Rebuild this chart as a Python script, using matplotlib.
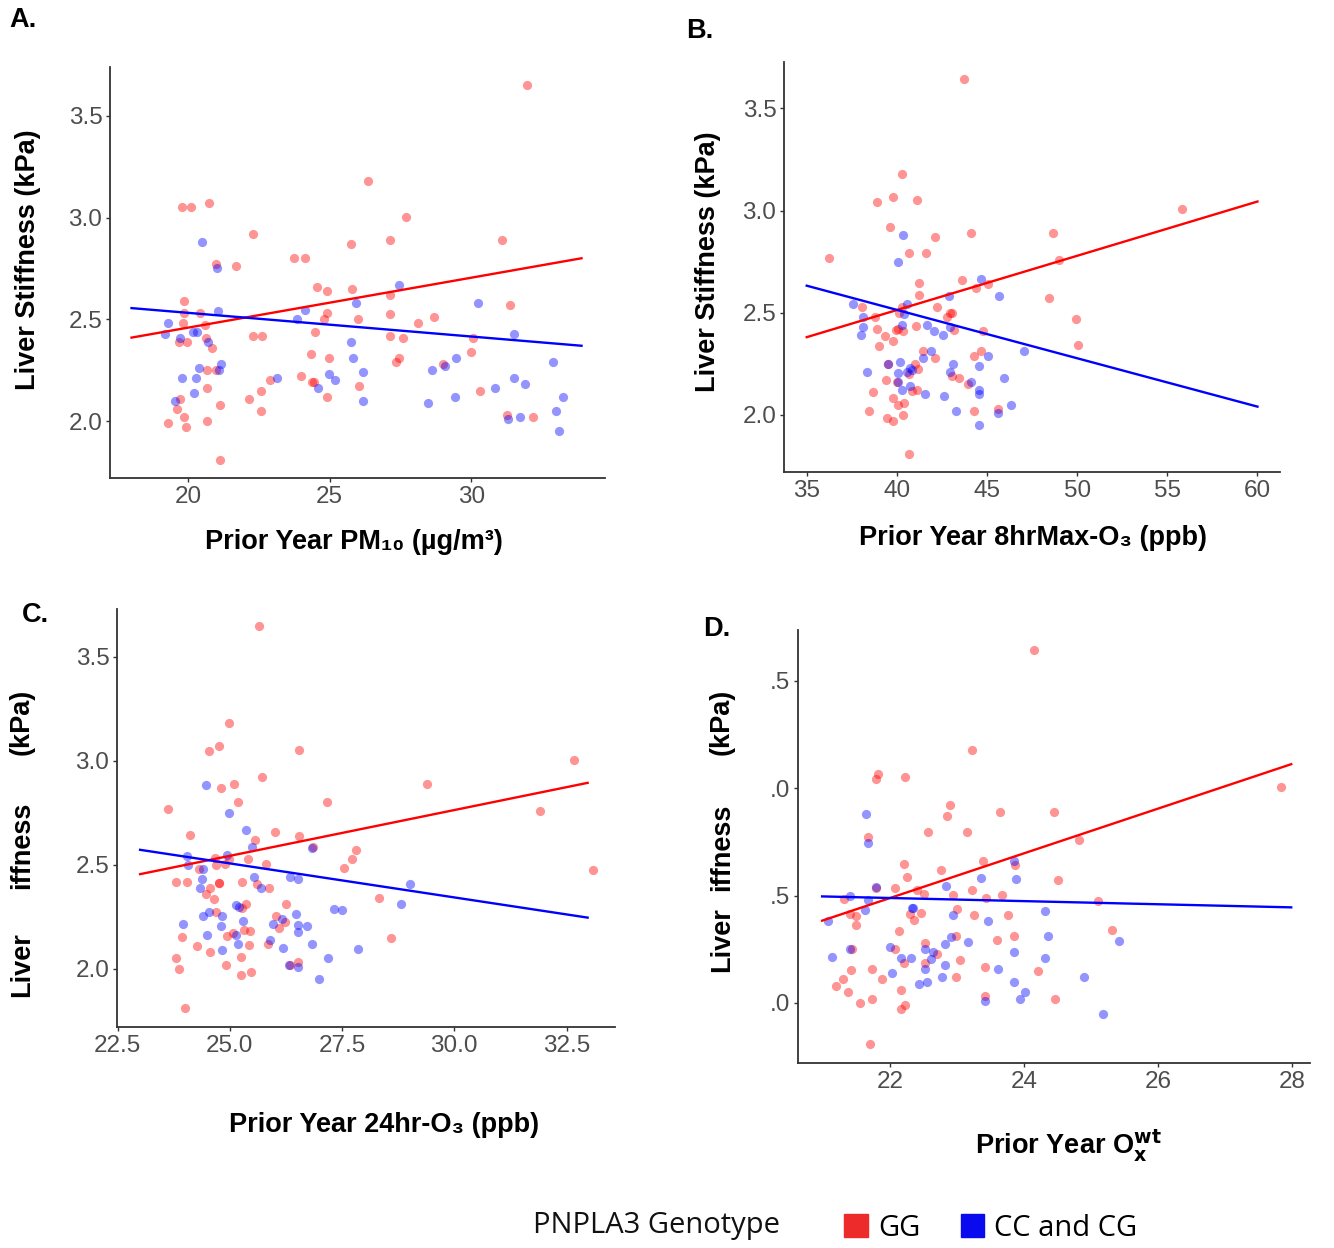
import matplotlib
matplotlib.use("Agg")
import matplotlib.pyplot as plt
from matplotlib.patches import Patch

plt.rcParams['font.family'] = ['Liberation Sans', 'DejaVu Sans']

# ---------------- data ----------------
# Panel A: PM10
A_GG_X = [31.97,26.37,27.71,19.8,20.1,20.73,22.3,25.77,27.13,31.1,23.73,24.12,20.99,21.7,24.54,24.9,25.79,27.13,19.87,31.36,19.87,20.41,24.89,27.13,24.8,26.02,19.82,20.58,28.12,28.69,24.47,22.31,22.62,19.68,19.96,20.63,27.13,27.58,30.07,20.86,29.99,24.34,24.99,27.45,27.33,20.67,20.97,28.99,23.99,22.89,24.39,24.46,26.04,20.65,22.59,19.72,22.15,24.9,30.3,19.62,19.86,21.13,22.58,19.3,19.93,20.68,31.27,32.17,21.13]
A_GG_Y = [3.65,3.18,3.005,3.05,3.05,3.07,2.92,2.87,2.89,2.89,2.80,2.80,2.77,2.76,2.66,2.64,2.65,2.62,2.59,2.57,2.53,2.53,2.53,2.525,2.50,2.50,2.48,2.47,2.48,2.51,2.44,2.42,2.42,2.39,2.39,2.41,2.42,2.41,2.41,2.36,2.34,2.33,2.31,2.31,2.29,2.25,2.25,2.28,2.22,2.20,2.19,2.19,2.17,2.16,2.15,2.11,2.11,2.12,2.15,2.06,2.02,2.08,2.05,1.99,1.97,2.0,2.03,2.02,1.81]
A_CC_X = [20.5,21.01,27.44,30.24,25.93,24.12,21.06,23.84,19.3,19.18,19.71,20.18,20.33,20.72,31.52,25.76,25.84,29.48,32.89,20.39,21.17,21.1,28.6,29.07,26.17,24.99,25.18,19.8,20.29,23.15,31.52,31.91,24.6,30.83,20.21,19.53,26.17,28.46,29.43,33.25,31.3,31.74,33.0,33.12]
A_CC_Y = [2.88,2.75,2.67,2.58,2.58,2.545,2.54,2.50,2.48,2.43,2.41,2.44,2.44,2.39,2.43,2.39,2.31,2.31,2.29,2.26,2.28,2.25,2.25,2.27,2.24,2.23,2.20,2.21,2.21,2.21,2.21,2.18,2.16,2.16,2.14,2.10,2.10,2.09,2.12,2.12,2.01,2.02,2.05,1.95]
A_FIT_X = [18.0, 33.9]
A_FIT_GG = [2.41, 2.80]
A_FIT_CC = [2.555, 2.37]

# Panel B: 8hrMax-O3
B_GG_X = [43.71,40.29,38.88,39.77,41.1,55.8,39.6,44.09,48.64,42.1,40.69,41.6,36.26,48.97,41.21,43.61,44.37,45.06,41.21,48.46,38.09,40.29,40.14,42.25,43.08,42.95,38.79,42.78,49.94,38.92,41.08,39.94,39.33,39.77,40.08,40.36,43.19,44.8,50.03,38.99,41.45,44.67,44.26,42.12,39.49,41.0,41.19,40.67,43.04,43.43,39.4,40.03,43.95,38.7,40.86,41.14,39.81,40.07,40.38,38.44,44.26,45.61,39.44,39.79,40.34,40.66]
B_GG_Y = [3.645,3.18,3.04,3.065,3.05,3.005,2.92,2.89,2.89,2.87,2.79,2.79,2.77,2.76,2.645,2.66,2.62,2.64,2.585,2.57,2.53,2.526,2.50,2.526,2.50,2.50,2.48,2.48,2.47,2.42,2.436,2.413,2.387,2.36,2.42,2.41,2.417,2.41,2.34,2.335,2.31,2.31,2.29,2.28,2.25,2.25,2.225,2.20,2.19,2.18,2.17,2.16,2.15,2.11,2.115,2.12,2.08,2.05,2.06,2.02,2.02,2.03,1.985,1.97,2.0,1.81]
B_CC_X = [40.34,40.05,44.65,45.68,42.89,37.59,40.55,38.1,40.42,38.1,40.27,41.65,42.04,42.95,38.01,42.56,47.05,41.91,45.04,41.45,39.53,40.18,43.13,44.57,40.71,38.35,40.08,40.55,40.82,42.95,45.92,44.13,40.07,40.73,40.29,44.54,44.57,41.54,42.6,43.28,45.59,46.31,44.57]
B_CC_Y = [2.88,2.75,2.665,2.58,2.58,2.54,2.54,2.48,2.495,2.43,2.44,2.44,2.41,2.43,2.39,2.39,2.31,2.31,2.29,2.28,2.25,2.26,2.25,2.24,2.23,2.21,2.205,2.21,2.22,2.21,2.18,2.16,2.16,2.14,2.12,2.12,2.10,2.10,2.09,2.02,2.01,2.05,1.95]
B_FIT_X = [35.0, 60.0]
B_FIT_GG = [2.38, 3.044]
B_FIT_CC = [2.632, 2.04]

# Panel C: 24hr-O3
C_GG_X = [25.65,24.98,24.53,24.75,26.54,32.66,29.39,25.71,24.81,25.1,25.17,27.17,23.62,31.91,24.12,26.01,26.54,25.55,26.85,27.8,27.72,24.67,24.69,24.9,24.97,24.31,25.4,25.8,27.54,33.09,23.8,24.05,24.75,24.75,25.26,24.56,25.6,25.88,24.46,24.64,28.32,24.7,25.36,25.26,26.25,26.02,26.22,26.09,23.93,25.32,25.45,24.93,25.08,24.27,25.42,25.84,28.59,24.55,23.79,25.25,23.86,24.91,25.25,25.48,26.33,26.52,24.01]
C_GG_Y = [3.65,3.18,3.045,3.07,3.05,3.006,2.89,2.92,2.87,2.89,2.80,2.80,2.77,2.76,2.645,2.66,2.64,2.62,2.587,2.57,2.527,2.535,2.50,2.503,2.527,2.48,2.527,2.503,2.484,2.474,2.416,2.416,2.413,2.413,2.418,2.387,2.407,2.387,2.358,2.336,2.339,2.275,2.31,2.29,2.31,2.256,2.227,2.198,2.153,2.187,2.18,2.156,2.17,2.11,2.116,2.119,2.15,2.079,2.05,2.058,2.0,2.018,1.968,1.986,2.018,2.034,1.81]
C_CC_X = [24.47,24.98,25.36,25.5,26.84,24.04,24.06,24.94,24.41,24.37,24.33,25.53,25.7,26.34,26.51,29.01,28.81,25.13,25.2,27.31,27.5,24.54,24.4,24.82,23.95,24.81,25.3,26.17,26.48,25.95,26.51,26.71,26.51,24.49,25.13,25.17,25.89,26.82,24.83,26.19,27.85,27.19,26.32,26.52,26.99]
C_CC_Y = [2.883,2.748,2.667,2.584,2.579,2.543,2.497,2.545,2.479,2.434,2.386,2.442,2.386,2.439,2.432,2.41,2.31,2.307,2.296,2.289,2.281,2.275,2.252,2.252,2.214,2.204,2.232,2.24,2.262,2.214,2.21,2.207,2.178,2.16,2.164,2.12,2.14,2.12,2.092,2.098,2.095,2.05,2.019,2.01,1.95]
C_FIT_X = [23.0, 32.97]
C_FIT_GG = [2.455, 2.894]
C_FIT_CC = [2.572, 2.246]

# Panel D: Ox wt
D_GG_X = [24.15,23.22,21.79,21.83,22.23,27.83,22.9,22.86,23.64,24.45,22.57,23.15,21.67,24.82,22.21,23.39,23.87,22.76,22.26,24.51,21.79,22.08,22.41,23.23,22.51,22.94,23.44,23.68,25.11,21.31,21.4,21.49,21.49,22.3,22.36,22.47,23.01,23.26,23.76,22.13,25.32,22.52,22.99,23.6,23.85,21.44,22.08,22.71,22.21,22.52,23.04,23.42,21.42,21.74,24.21,21.3,21.19,21.89,22.99,21.37,22.16,21.55,21.74,22.17,22.23,23.42,24.46,21.71]
D_GG_Y = [3.646,3.18,3.045,3.066,3.05,3.007,2.92,2.869,2.89,2.89,2.796,2.796,2.772,2.76,2.645,2.659,2.641,2.619,2.586,2.571,2.535,2.534,2.527,2.526,2.506,2.502,2.487,2.502,2.475,2.484,2.414,2.403,2.363,2.413,2.386,2.419,2.437,2.411,2.408,2.333,2.34,2.279,2.313,2.293,2.31,2.253,2.251,2.226,2.186,2.186,2.2,2.168,2.154,2.157,2.149,2.112,2.078,2.113,2.119,2.053,2.059,2.0,2.019,1.971,1.988,2.03,2.02,1.81]
D_CC_X = [21.65,21.67,23.85,23.36,23.89,22.84,21.79,21.41,21.68,21.63,22.33,22.34,22.95,24.31,21.08,23.46,24.36,22.92,23.16,25.42,22.82,21.4,22.0,22.53,22.64,23.85,21.13,22.16,22.31,22.62,22.82,22.53,23.61,24.31,22.03,22.78,22.44,22.56,23.85,24.9,24.02,23.94,23.42,25.18]
D_CC_Y = [2.881,2.746,2.662,2.582,2.579,2.544,2.54,2.498,2.481,2.431,2.44,2.44,2.41,2.428,2.382,2.383,2.31,2.307,2.282,2.29,2.276,2.251,2.259,2.253,2.236,2.239,2.213,2.211,2.211,2.206,2.178,2.16,2.16,2.209,2.14,2.121,2.09,2.095,2.099,2.119,2.051,2.02,2.011,1.949]
D_FIT_X = [20.99, 27.99]
D_FIT_GG = [2.383, 3.112]
D_FIT_CC = [2.496, 2.445]

Y_TICKS = [2.0, 2.5, 3.0, 3.5]
Y_LABELS = ["2.0", "2.5", "3.0", "3.5"]
Y_LABELS_D = [".0", ".5", ".0", ".5"]
A_XTICKS = [20, 25, 30]
B_XTICKS = [35, 40, 45, 50, 55, 60]
C_XTICKS = [22.5, 25.0, 27.5, 30.0, 32.5]
D_XTICKS = [22, 24, 26, 28]

LEGEND_TITLE = "PNPLA3 Genotype"
GROUPS = ["GG", "CC and CG"]

# ---------------- figure ----------------
W, H = 1334, 1248
fig = plt.figure(figsize=(W / 100, H / 100), dpi=100)
fig.patch.set_facecolor("white")

RED = "#FF0000"
BLUE = "#0000FF"
TICK_COL = "#4D4D4D"


def box(l, r, t, b):
    return [l / W, 1 - b / H, (r - l) / W, (b - t) / H]


def fx(x):
    return x / W


def fy(y):
    return 1 - y / H


def panel(rect, ggx, ggy, ccx, ccy, fitx, fitgg, fitcc, xlim, ylim, xticks, xlabels, ylabels):
    ax = fig.add_axes(rect)
    ax.scatter(ggx, ggy, s=44, color=RED, alpha=0.42, linewidths=0, zorder=2)
    ax.scatter(ccx, ccy, s=44, color=BLUE, alpha=0.42, linewidths=0, zorder=2)
    ax.plot(fitx, fitgg, color=RED, lw=1.7, zorder=3)
    ax.plot(fitx, fitcc, color=BLUE, lw=1.7, zorder=3)
    ax.set_xlim(*xlim)
    ax.set_ylim(*ylim)
    ax.set_xticks(xticks)
    ax.set_xticklabels(xlabels)
    ax.set_yticks(Y_TICKS)
    ax.set_yticklabels(ylabels)
    for s in ["top", "right"]:
        ax.spines[s].set_visible(False)
    for s in ["left", "bottom"]:
        ax.spines[s].set_color("#333333")
        ax.spines[s].set_linewidth(1.3)
    ax.tick_params(axis="both", length=3, width=1, color="#333333",
                   labelcolor=TICK_COL, labelsize=17.5, pad=2.5)
    ax.set_facecolor("white")
    return ax


panel(box(110, 605, 67, 478), A_GG_X, A_GG_Y, A_CC_X, A_CC_Y, A_FIT_X, A_FIT_GG, A_FIT_CC,
      (17.24, 34.73), (1.72, 3.74), A_XTICKS, [str(v) for v in A_XTICKS], Y_LABELS)
panel(box(784, 1280, 62, 472), B_GG_X, B_GG_Y, B_CC_X, B_CC_Y, B_FIT_X, B_FIT_GG, B_FIT_CC,
      (33.74, 61.25), (1.72, 3.727), B_XTICKS, [str(v) for v in B_XTICKS], Y_LABELS)
panel(box(117, 615, 609, 1027), C_GG_X, C_GG_Y, C_CC_X, C_CC_Y, C_FIT_X, C_FIT_GG, C_FIT_CC,
      (22.485, 33.58), (1.72, 3.73), C_XTICKS, ["%.1f" % v for v in C_XTICKS], Y_LABELS)
panel(box(798, 1310, 630, 1063), D_GG_X, D_GG_Y, D_CC_X, D_CC_Y, D_FIT_X, D_FIT_GG, D_FIT_CC,
      (20.63, 28.27), (1.72, 3.737), D_XTICKS, [str(v) for v in D_XTICKS], Y_LABELS_D)

LAB = dict(fontsize=19.5, fontweight="bold", color="black")

# panel letters
fig.text(fx(9), fy(20), "A.", ha="left", va="center", **LAB)
fig.text(fx(686), fy(31), "B.", ha="left", va="center", **LAB)
fig.text(fx(22), fy(615), "C.", ha="left", va="center", **LAB)
fig.text(fx(703), fy(629), "D.", ha="left", va="center", **LAB)

# x labels
fig.text(fx(354), fy(542), "Prior Year PM\u2081\u2080 (\u00b5g/m\u00b3)", ha="center", va="center", **LAB)
fig.text(fx(1033), fy(538), "Prior Year 8hrMax-O\u2083 (ppb)", ha="center", va="center", **LAB)
fig.text(fx(384), fy(1125), "Prior Year 24hr-O\u2083 (ppb)", ha="center", va="center", **LAB)
fig.text(fx(1068), fy(1146), r"Prior Year O$_\mathbf{x}^\mathbf{wt}$", ha="center", va="center", **LAB)

# y labels
fig.text(fx(28), fy(260), "Liver Stiffness (kPa)", rotation=90, ha="center", va="center", **LAB)
fig.text(fx(708), fy(262), "Liver Stiffness (kPa)", rotation=90, ha="center", va="center", **LAB)
for xc, parts in [(22, [("Liver", 965), ("iffness", 845), ("(kPa)", 722)]),
                  (722, [("Liver", 940), ("iffness", 847), ("(kPa)", 722)])]:
    for txt, yc in parts:
        fig.text(fx(xc), fy(yc), txt, rotation=90, ha="center", va="center", **LAB)

# legend
fig.text(fx(533), fy(1226), LEGEND_TITLE, ha="left", va="center",
         fontsize=21, family=["Open Sans", "DejaVu Sans"], color="#111111")
handles = [Patch(facecolor="#EE2B2B", edgecolor="#EE2B2B"),
           Patch(facecolor="#0A0AEE", edgecolor="#0A0AEE")]
fig.legend(handles, GROUPS, loc="center left", bbox_to_anchor=(fx(818), fy(1228)),
           ncol=2, frameon=False, handlelength=0.8, handleheight=0.8,
           handletextpad=0.35, columnspacing=1.4,
           prop={"family": ["Open Sans", "DejaVu Sans"], "size": 21})

fig.savefig("out.png", dpi=100, facecolor="white")
